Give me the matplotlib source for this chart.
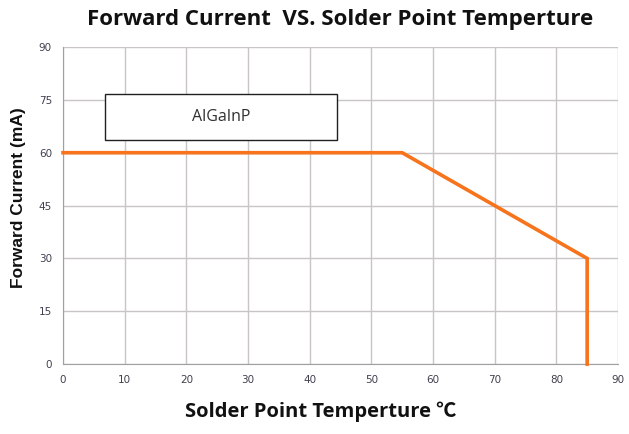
import matplotlib
matplotlib.use("Agg")
import matplotlib.pyplot as plt

# derating curve
temp = [0, 55, 85, 85]
current = [60, 60, 30, 0]
x_ticks = [0, 10, 20, 30, 40, 50, 60, 70, 80, 90]
y_ticks = [0, 15, 30, 45, 60, 75, 90]
label = "AlGaInP"

fig = plt.figure(figsize=(6.29, 4.34), dpi=100)
ax = fig.add_axes([0.1002, 0.161, 0.8823, 0.7307])

ax.plot(temp, current, color="#f7731c", lw=2.6, solid_joinstyle="miter", clip_on=False, zorder=3)

ax.set_xlim(0, 90)
ax.set_ylim(0, 90)
ax.set_xticks(x_ticks)
ax.set_yticks(y_ticks)
ax.grid(True, color="#c8c4c8", lw=1.0)
ax.set_axisbelow(True)
for s in ["top", "right"]:
    ax.spines[s].set_visible(False)
for s in ["left", "bottom"]:
    ax.spines[s].set_color("#a0a0a0")
ax.tick_params(length=0, labelsize=7.5, labelcolor="#404050", pad=8)

# label box
ax.add_patch(plt.Rectangle((6.8, 63.6), 37.6, 13.1, fc="white", ec="#202020", lw=1.0, zorder=3.5))
ax.text(25.6, 70.2, label, ha="center", va="center", fontsize=11.5, color="#303030",
        family=["Open Sans", "DejaVu Sans"], zorder=4)

fig.text(0.54, 0.955, "Forward Current  VS. Solder Point Temperture", ha="center", va="center",
         fontsize=16, fontweight="bold", family=["Open Sans", "DejaVu Sans"], color="#111111")
fig.text(0.51, 0.052, "Solder Point Temperture \u2103", ha="center", va="center",
         fontsize=14.5, fontweight="bold", family=["Open Sans", "Noto Sans CJK SC", "DejaVu Sans"], color="#111111")
fig.text(0.029, 0.544, "Forward Current (mA)", ha="center", va="center", rotation=90,
         fontsize=12.5, fontweight="bold", family=["Liberation Sans", "DejaVu Sans"], color="#111111")

fig.savefig("out.png", dpi=100)
